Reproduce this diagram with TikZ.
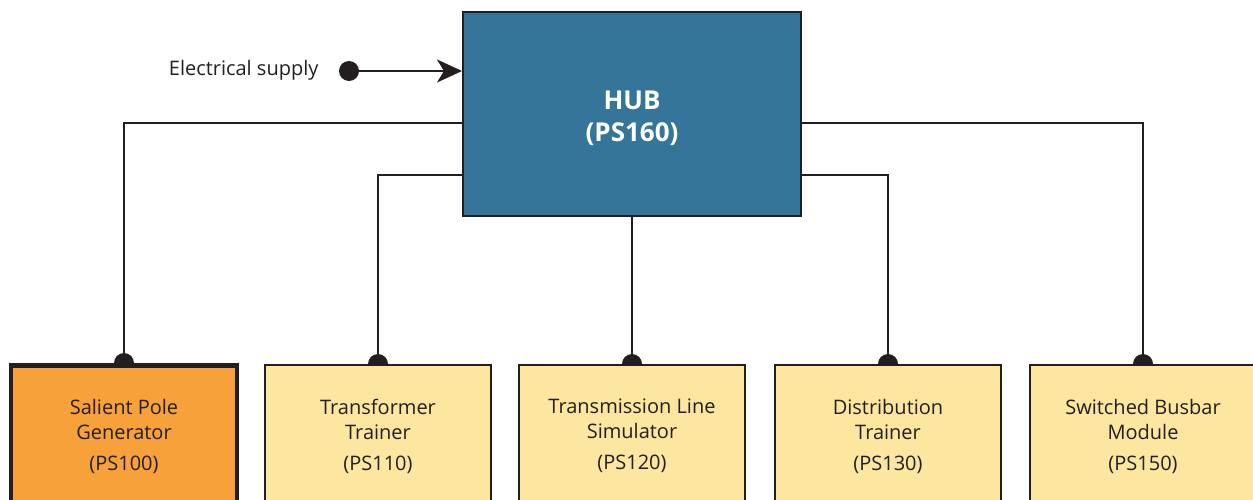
\documentclass[tikz,border=0pt]{standalone}
\usepackage{fontspec}
\setmainfont{Open Sans}
\usetikzlibrary{arrows.meta}
\definecolor{hubblue}{RGB}{52,117,153}
\definecolor{genorange}{RGB}{247,161,59}
\definecolor{unityellow}{RGB}{253,230,160}
\definecolor{edgegray}{RGB}{35,31,32}
\begin{document}
\begin{tikzpicture}[x=1pt,y=-1pt,
    wire/.style={draw=edgegray,line width=2pt},
    unit/.style={draw=edgegray,line width=2pt,fill=unityellow,anchor=north,
      minimum width=226pt,minimum height=142pt,align=center,text=edgegray,
      font=\fontsize{20}{25}\selectfont},
    tap/.style={fill=edgegray}]
    \useasboundingbox (0,0) rectangle (1253,500);
    \clip (0,0) rectangle (1253,500);
    % hub and supply
    \node[draw=edgegray,line width=2pt,fill=hubblue,minimum width=338pt,minimum height=204pt,
      label={[align=center,text=white,yshift=-4pt,font=\bfseries\fontsize{26}{32}\selectfont]center:HUB\\(PS160)}]
      (hub) at (632,114) {};
    \node[anchor=east,text=edgegray,font=\fontsize{20}{25}\selectfont]
      (supply) at (322,70) {Electrical supply};
    \coordinate (src) at (349,71);
    \fill[tap] (src) circle (10pt);
    \draw[wire,-{Stealth[length=25pt,width=23pt,inset=7pt]}] (src) -- (hub.west |- src);
    % trainers
    \node[unit,fill=genorange,line width=4.5pt] (gen) at (124,363) {Salient Pole\\Generator\\[6pt](PS100)};
    \node[unit] (xfmr) at (378,364) {Transformer\\Trainer\\[6pt](PS110)};
    \node[unit] (line) at (632,364) {Transmission Line\\Simulator\\[6pt](PS120)};
    \node[unit] (dist) at (888,364) {Distribution\\Trainer\\[6pt](PS130)};
    \node[unit] (bus) at (1143,364) {Switched Busbar\\Module\\[6pt](PS150)};
    % feeders
    \draw[wire] (hub.west |- 0,123) -| (gen.north);
    \draw[wire] (hub.west |- 0,175) -| (xfmr.north);
    \draw[wire] (hub.south) -- (line.north);
    \draw[wire] (hub.east |- 0,175) -| (dist.north);
    \draw[wire] (hub.east |- 0,123) -| (bus.north);
    \foreach \n in {gen,xfmr,line,dist,bus}
        \fill[tap] (\n.north) ++(10pt,0) arc[start angle=0,end angle=180,radius=10pt] -- cycle;
\end{tikzpicture}
\end{document}
